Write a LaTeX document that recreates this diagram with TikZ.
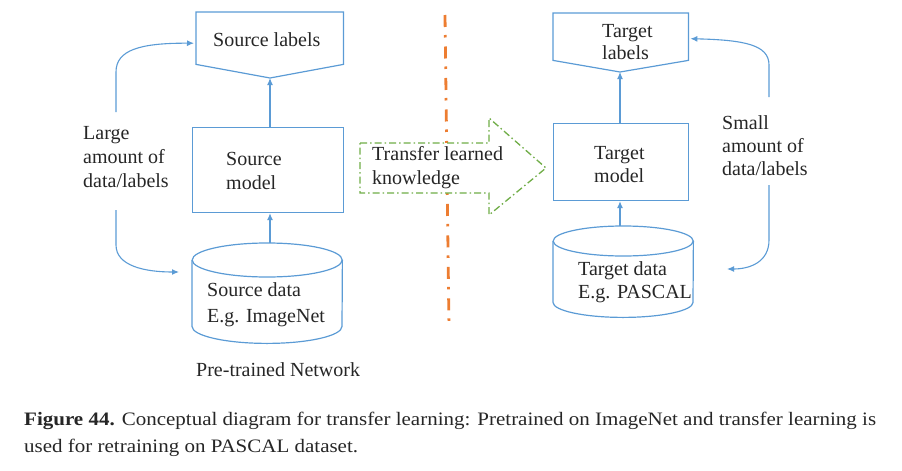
\documentclass[tikz,border=0pt]{standalone}
\usepackage{fontspec}
\setmainfont{Liberation Serif}
\newfontfamily\dgfont{Liberation Serif}
\usetikzlibrary{arrows.meta,calc}
\definecolor{lblue}{RGB}{91,155,213}
\definecolor{dorange}{RGB}{237,125,49}
\definecolor{dgreen}{RGB}{112,173,71}
\begin{document}
\begin{tikzpicture}[x=1pt,y=-1pt,
  font=\dgfont\fontsize{20}{24}\selectfont,
  bline/.style={draw=lblue,line width=1.2pt},
  barrow/.style={draw=lblue,line width=1.1pt,-{Latex[length=7pt,width=6pt]}},
  area/.style={inner sep=0pt,anchor=north west},
  txt/.style={align=left,anchor=west,inner sep=0pt,text=black!85}
]
\path[use as bounding box] (0,0) rectangle (902,471);

% ---------- left side ----------
\node[area,minimum width=147pt,minimum height=52pt] (slab) at (196,12) {};
\coordinate (slabtip) at (270,78);
\draw[bline] (slab.north west) -- (slab.north east) -- (slab.south east) -- (slabtip) -- (slab.south west) -- cycle;
\node[txt] (slabt) at (213,40) {Source labels};

\node[area,bline,minimum width=151pt,minimum height=85pt] (smodel) at (192,127) {};
\node[txt] (smodelt) at (226,171) {Source\\model};

\node[area,minimum width=150pt,minimum height=100pt] (sdata) at (192,243) {};
\draw[bline] ([yshift=-17pt]sdata.north) ellipse[x radius=75pt,y radius=17pt];
\draw[bline] ([yshift=-17pt]sdata.north west) -- ([yshift=17pt]sdata.south west)
  arc[start angle=180,end angle=360,x radius=75pt,y radius=17pt] -- ([yshift=-17pt]sdata.north east);
\node[txt,font=\dgfont\fontsize{20}{26}\selectfont] (sdatat) at (207,305) {Source data\\E.g. ImageNet};

\draw[barrow] (smodel.north -| slabtip) -- (slabtip);
\draw[barrow] (sdata.north -| slabtip) -- (smodel.south -| slabtip);

\node[txt] (large) at (83,157) {Large\\amount of\\data/labels};
\coordinate (lu) at (116,112);
\coordinate (ld) at (116,210);
\coordinate (ldend) at (179,272);
\draw[barrow] (lu) -- ++(0,-40) .. controls (116,50) and (140,43) .. ([xshift=-2pt,yshift=-5pt]slab.west);
\draw[barrow] (ld) -- ++(0,35) .. controls (116,266) and (145,272) .. (ldend);

\node[txt] (pretr) at (196,370) {Pre-trained Network};

% ---------- divider ----------
\coordinate (dtop) at (445,15);
\coordinate (dbot) at (449,328);
\draw[dorange,line width=2.8pt,dash pattern=on 12pt off 8pt on 2.5pt off 9pt] (dtop) -- (dbot);

% ---------- transfer arrow ----------
\draw[dgreen,line width=1.3pt,fill=white,dash pattern=on 7pt off 3pt on 1.5pt off 3pt]
  (360,143) -- (489,143) -- (489,118) -- (546,168) -- (489,215) -- (489,193) -- (360,193) -- cycle;
\node[txt] (transfer) at (372,168) {Transfer learned\\knowledge};

% ---------- right side ----------
\node[area,minimum width=135pt,minimum height=47pt] (tlab) at (553,13) {};
\coordinate (tlabtip) at (620,72);
\draw[bline] (tlab.north west) -- (tlab.north east) -- (tlab.south east) -- (tlabtip) -- (tlab.south west) -- cycle;
\node[txt,font=\dgfont\fontsize{20}{22}\selectfont] (tlabt) at (602,42) {Target\\labels};

\node[area,bline,minimum width=135pt,minimum height=77pt] (tmodel) at (553,123) {};
\node[txt,font=\dgfont\fontsize{20}{23}\selectfont] (tmodelt) at (594,165) {Target\\model};

\node[area,minimum width=140pt,minimum height=91pt] (tdata) at (553,226) {};
\draw[bline] ([yshift=-15pt]tdata.north) ellipse[x radius=70pt,y radius=15pt];
\draw[bline] ([yshift=-15pt]tdata.north west) -- ([yshift=15pt]tdata.south west)
  arc[start angle=180,end angle=360,x radius=70pt,y radius=15pt] -- ([yshift=-15pt]tdata.north east);
\node[txt,font=\dgfont\fontsize{20}{23}\selectfont] (tdatat) at (578,282) {Target data\\E.g. PASCAL};

\draw[barrow] (tmodel.north -| tlabtip) -- (tlabtip);
\draw[barrow] (tdata.north -| tlabtip) -- (tmodel.south -| tlabtip);

\node[txt,font=\dgfont\fontsize{20}{23}\selectfont] (small) at (722,146) {Small\\amount of\\data/labels};
\coordinate (ru) at (769,97);
\coordinate (rd) at (769,185);
\coordinate (rdend) at (727,269);
\draw[barrow] (ru) -- ++(0,-32) .. controls (769,45) and (745,40) .. ([xshift=2pt,yshift=-2pt]tlab.east);
\draw[barrow] (rd) -- ++(0,55) .. controls (769,262) and (750,269) .. (rdend);

% ---------- caption ----------
\node[txt,font=\dgfont\fontsize{19}{27}\selectfont] (cap1) at (24,421) {\scalebox{1.105}[1]{\textbf{Figure 44.} Conceptual diagram for transfer learning: Pretrained on ImageNet and transfer learning is}};
\node[txt,font=\dgfont\fontsize{19}{27}\selectfont] (cap2) at (24,448) {\scalebox{1.105}[1]{used for retraining on PASCAL dataset.}};
\end{tikzpicture}
\end{document}
